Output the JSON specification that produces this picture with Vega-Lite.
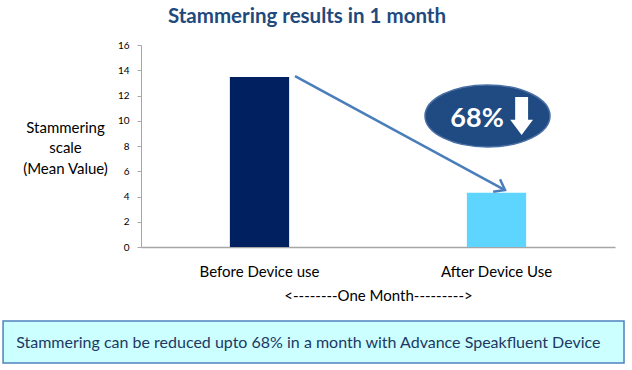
{
  "$schema": "https://vega.github.io/schema/vega-lite/v6.json",
  "autosize": "none",
  "width": 474,
  "height": 202,
  "padding": {"left": 141, "top": 45, "right": 17, "bottom": 123},
  "background": "white",
  "config": {
    "font": "Lato",
    "view": {"stroke": null},
    "axisY": {
      "tickCount": 9, "labelOverlap": false, "grid": false,
      "labelFontSize": 10, "labelColor": "#000000", "labelPadding": 8,
      "tickSize": 4, "tickColor": "#a6a6a6", "domainColor": "#a6a6a6"
    }
  },
  "title": {
    "text": "Stammering results in 1 month",
    "fontSize": 20.5,
    "fontWeight": "bold",
    "color": "#1f4a7d",
    "anchor": "middle",
    "dx": -71,
    "offset": 13
  },
  "resolve": {"scale": {"x": "independent"}, "axis": {"x": "independent"}},
  "layer": [
    {
      "data": {"values": [
        {"phase": "Before Device use", "value": 13.47},
        {"phase": "After Device Use", "value": 4.3}
      ]},
      "mark": {"type": "bar"},
      "encoding": {
        "x": {
          "field": "phase", "type": "nominal", "sort": null,
          "scale": {"paddingInner": 0.75, "paddingOuter": 0.375},
          "axis": {
            "title": "<--------One Month--------->",
            "labelAngle": 0, "labelFontSize": 15, "labelColor": "#000000",
            "labelPadding": 17, "ticks": false, "tickSize": 0,
            "domainColor": "#a6a6a6", "domainWidth": 1.5,
            "titleFontSize": 15, "titleFontWeight": "normal", "titleColor": "#000000",
            "titlePadding": 9
          }
        },
        "y": {
          "field": "value", "type": "quantitative",
          "scale": {"domain": [0, 16], "nice": false},
          "axis": {
            "values": [0, 2, 4, 6, 8, 10, 12, 14, 16],
            "title": ["Stammering", "scale", "(Mean Value)"],
            "titleAngle": 0, "titleAlign": "center", "titleBaseline": "alphabetic",
            "titleX": -76, "titleY": 87, "titleLineHeight": 20.5,
            "titleFontSize": 15, "titleFontWeight": "normal", "titleColor": "#000000"
          }
        },
        "color": {
          "field": "phase", "type": "nominal", "sort": null,
          "scale": {"range": ["#002060", "#5dd5ff"]},
          "legend": null
        }
      }
    },
    {
      "data": {"values": [{"x": 0.325, "y": 13.54, "x2": 0.768, "y2": 4.51}]},
      "mark": {"type": "rule", "color": "#4a7ebb", "strokeWidth": 2.5},
      "encoding": {
        "x": {"field": "x", "type": "quantitative", "scale": {"domain": [0, 1], "nice": false, "zero": false}, "axis": null},
        "x2": {"field": "x2"},
        "y": {"field": "y", "type": "quantitative", "scale": {"domain": [0, 16], "nice": false}},
        "y2": {"field": "y2"}
      }
    },
    {
      "data": {"values": [{"x": 0.768, "y": 4.51}]},
      "mark": {"type": "point", "shape": "M -1 -0.75 L 0 0 L -1 0.75", "filled": false, "stroke": "#4a7ebb", "strokeWidth": 2.5, "size": 369, "angle": 28.5, "opacity": 1},
      "encoding": {
        "x": {"field": "x", "type": "quantitative", "scale": {"domain": [0, 1], "nice": false, "zero": false}, "axis": null},
        "y": {"field": "y", "type": "quantitative", "scale": {"domain": [0, 16], "nice": false}}
      }
    },
    {
      "data": {"values": [{"x": 0.731, "y": 10.38}]},
      "mark": {"type": "point", "shape": "M -1 0 C -1 -0.274 -0.552 -0.496 0 -0.496 C 0.552 -0.496 1 -0.274 1 0 C 1 0.274 0.552 0.496 0 0.496 C -0.552 0.496 -1 0.274 -1 0 Z", "filled": true, "fill": "#1f4a82", "stroke": "#4a6fa5", "strokeWidth": 1.5, "size": 15625, "opacity": 1},
      "encoding": {
        "x": {"field": "x", "type": "quantitative", "scale": {"domain": [0, 1], "nice": false, "zero": false}, "axis": null},
        "y": {"field": "y", "type": "quantitative", "scale": {"domain": [0, 16], "nice": false}}
      }
    },
    {
      "data": {"values": [{"x": 0.709, "y": 9.53, "label": "68%"}]},
      "mark": {"type": "text", "color": "#ffffff", "fontSize": 27, "fontWeight": "bold", "align": "center", "baseline": "alphabetic"},
      "encoding": {
        "x": {"field": "x", "type": "quantitative", "scale": {"domain": [0, 1], "nice": false, "zero": false}, "axis": null},
        "y": {"field": "y", "type": "quantitative", "scale": {"domain": [0, 16], "nice": false}},
        "text": {"field": "label"}
      }
    },
    {
      "data": {"values": [{"x": 0.803, "y": 10.38}]},
      "mark": {"type": "point", "shape": "M -0.34 -1 L 0.34 -1 L 0.34 0.2 L 0.6 0.2 L 0 1 L -0.6 0.2 L -0.34 0.2 Z", "filled": true, "fill": "#ffffff", "size": 1444, "opacity": 1},
      "encoding": {
        "x": {"field": "x", "type": "quantitative", "scale": {"domain": [0, 1], "nice": false, "zero": false}, "axis": null},
        "y": {"field": "y", "type": "quantitative", "scale": {"domain": [0, 16], "nice": false}}
      }
    },
    {
      "data": {"values": [{"x": -0.291, "x2": 1.019, "y": -5.86, "y2": -9.19}]},
      "mark": {"type": "rect", "fill": "#ccffff", "stroke": "#4f81bd", "strokeWidth": 1.5},
      "encoding": {
        "x": {"field": "x", "type": "quantitative", "scale": {"domain": [0, 1], "nice": false, "zero": false}, "axis": null},
        "x2": {"field": "x2"},
        "y": {"field": "y", "type": "quantitative", "scale": {"domain": [0, 16], "nice": false}},
        "y2": {"field": "y2"}
      }
    },
    {
      "data": {"values": [{"x": 0.353, "y": -8.02, "label": "Stammering can be reduced upto 68% in a month with Advance Speakfluent Device"}]},
      "mark": {"type": "text", "color": "#203864", "fontSize": 16, "align": "center", "baseline": "alphabetic"},
      "encoding": {
        "x": {"field": "x", "type": "quantitative", "scale": {"domain": [0, 1], "nice": false, "zero": false}, "axis": null},
        "y": {"field": "y", "type": "quantitative", "scale": {"domain": [0, 16], "nice": false}},
        "text": {"field": "label"}
      }
    }
  ]
}
